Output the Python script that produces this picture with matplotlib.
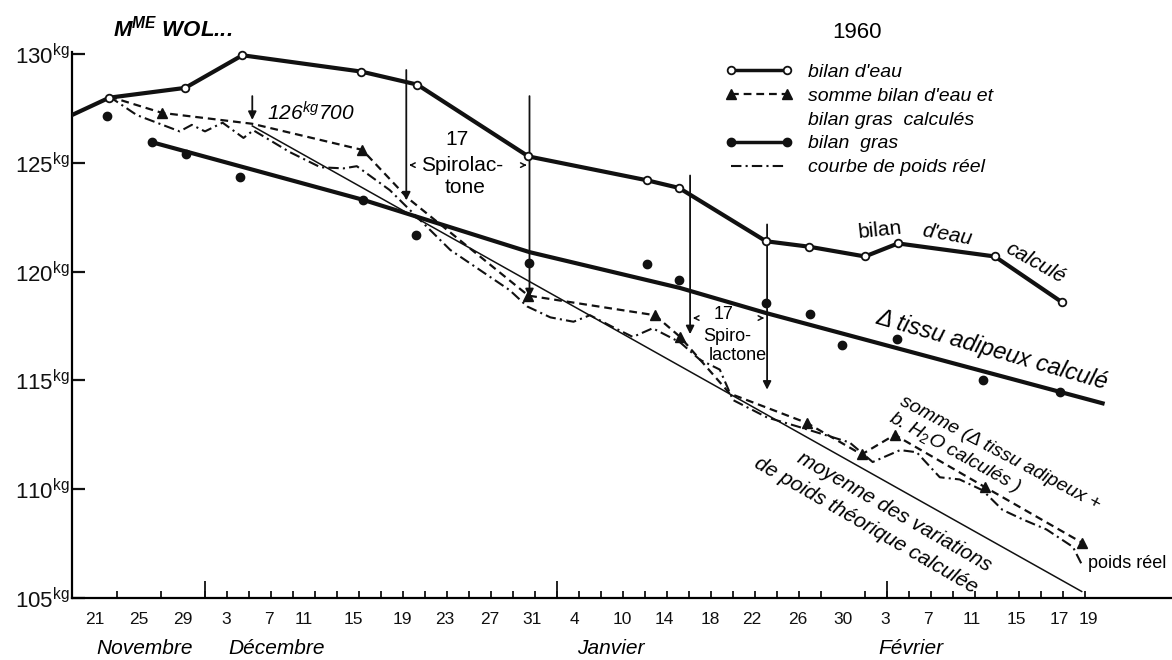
import matplotlib
matplotlib.use('Agg')
import matplotlib.pyplot as plt
from matplotlib import font_manager
from matplotlib.lines import Line2D

# x values are days counted from 21 Nov along the drawn axis, y values in kg
eau_day = [-2.1, 1.3, 8.2, 13.4, 24.2, 29.3, 39.4, 50.2, 53.1, 61.0, 64.9, 70.0, 73.0, 81.8, 87.9]
eau_kg = [127.2, 128.0, 128.45, 129.95, 129.2, 128.6, 125.3, 124.2, 123.85, 121.4, 121.15, 120.7, 121.3, 120.7, 118.6]

gras_day = [1.1, 5.2, 8.3, 13.2, 24.4, 29.2, 39.5, 50.2, 53.1, 61.0, 65.0, 67.9, 72.9, 80.7, 87.7]
gras_kg = [127.15, 125.95, 125.4, 124.35, 123.3, 121.7, 120.4, 120.35, 119.6, 118.55, 118.05, 116.65, 116.9, 115.0, 114.45]

adipeux_day = [5.2, 24.4, 39.5, 53.2, 61.0, 91.6]
adipeux_kg = [125.95, 123.3, 120.9, 119.25, 118.1, 113.95]

somme_day = [1.3, 6.1, 14.3, 24.3, 28.4, 39.4, 50.9, 53.2, 57.7, 64.7, 69.7, 72.7, 80.9, 89.7]
somme_kg = [128.05, 127.3, 126.8, 125.6, 123.4, 118.9, 118.0, 117.0, 114.4, 113.05, 111.6, 112.5, 110.1, 107.55]
somme_triangles = [1, 3, 5, 6, 7, 9, 10, 11, 12, 13]

reel_day = [1.3, 3.8, 7.7, 8.8, 10.0, 11.6, 13.5, 14.4, 17.7, 20.5, 22.6, 23.8, 26.8, 28.6,
            32.3, 37.7, 39.3, 41.4, 43.5, 45.0, 47.1, 48.9, 50.7, 53.2, 55.0, 56.8, 58.0,
            61.1, 64.1, 68.6, 70.7, 71.6, 73.2, 74.7, 76.8, 78.6, 80.7, 82.5, 84.4, 86.5, 88.9, 89.8]
reel_kg = [128.05, 127.2, 126.45, 126.75, 126.45, 126.85, 126.15, 126.5, 125.5, 124.8, 124.75, 124.85,
           123.75, 122.85, 121.0, 119.15, 118.4, 117.9, 117.7, 118.0, 117.45, 117.0, 117.4, 116.75,
           115.95, 115.5, 114.1, 113.3, 112.85, 112.15, 111.25, 111.45, 111.8, 111.7, 110.55, 110.45,
           109.95, 109.05, 108.6, 108.15, 107.35, 106.45]

theo_day = [14.3, 89.7]
theo_kg = [126.7, 105.3]

arrow_day = [14.3, 28.3, 39.5, 54.1, 61.1]
arrow_top = [128.2, 129.4, 128.2, 124.55, 122.3]
arrow_bot = [126.85, 123.15, 118.7, 117.0, 114.45]

spiro_left = [28.3, 54.1]
spiro_right = [39.5, 61.1]
spiro_y = [124.9, 117.87]

yticks = [105, 110, 115, 120, 125, 130]
tick_marks = list(range(0, 91, 2))
month_marks = [10, 42, 72]
xlabel_pos = [0, 4, 8, 11.9, 15.8, 19, 23.5, 27.9, 31.8, 35.9, 39.7, 43.6, 47.9, 51.8, 55.9,
              59.7, 63.9, 68, 71.8, 75.7, 79.7, 83.8, 87.7, 90.3]
xlabels = ['21', '25', '29', '3', '7', '11', '15', '19', '23', '27', '31', '4', '10', '14', '18',
           '22', '26', '30', '3', '7', '11', '15', '17', '19']
months = ['Novembre', 'Décembre', 'Janvier', 'Février']
month_pos = [4.55, 16.5, 46.9, 74.2]

names = {f.name for f in font_manager.fontManager.ttflist}
FONT = 'Liberation Sans Narrow' if 'Liberation Sans Narrow' in names else 'Liberation Sans'
plt.rcParams['font.family'] = [FONT, 'DejaVu Sans']
plt.rcParams['mathtext.fontset'] = 'custom'
plt.rcParams['mathtext.rm'] = FONT
plt.rcParams['mathtext.it'] = FONT + ':italic'
plt.rcParams['mathtext.bf'] = FONT + ':bold:italic'

INK = '#111111'
fig = plt.figure(figsize=(11.72, 6.6), dpi=100)
ax = fig.add_axes([72 / 1172, 62 / 660, 1100 / 1172, 598 / 660])
ax.set_xlim(-2.09, 97.91)
ax.set_ylim(105, 132.49)

# series
ax.plot(eau_day, eau_kg, color=INK, lw=3, marker='o', ms=5.5, mfc='white', mec=INK, mew=1.3,
        markevery=list(range(1, len(eau_day))), zorder=4)
ax.plot(adipeux_day, adipeux_kg, color=INK, lw=3, zorder=3)
ax.plot(gras_day, gras_kg, 'o', color=INK, ms=6, zorder=4)
ax.plot(somme_day, somme_kg, color=INK, lw=1.6, ls=(0, (3.5, 2.2)), marker='^', ms=7,
        markevery=somme_triangles, zorder=3)
ax.plot(reel_day, reel_kg, color=INK, lw=1.5, ls=(0, (5, 2, 1, 2)), zorder=3)
ax.plot(theo_day, theo_kg, color=INK, lw=1.1, zorder=2)

for d, t, b in zip(arrow_day, arrow_top, arrow_bot):
    ax.annotate('', xy=(d, b), xytext=(d, t),
                arrowprops=dict(arrowstyle='-|>', lw=1.3, color=INK, mutation_scale=12))
for l, r, y in zip(spiro_left, spiro_right, spiro_y):
    ax.annotate('', xy=(l, y), xytext=(l + 0.8, y),
                arrowprops=dict(arrowstyle='->', lw=1.1, color=INK, mutation_scale=8))
    ax.annotate('', xy=(r, y), xytext=(r - 0.8, y),
                arrowprops=dict(arrowstyle='->', lw=1.1, color=INK, mutation_scale=8))

# axes
for s in ['top', 'right']:
    ax.spines[s].set_visible(False)
ax.spines['left'].set_bounds(105, 130.1)
ax.spines['left'].set_linewidth(1.6)
ax.spines['bottom'].set_linewidth(1.6)
ax.set_yticks(yticks, [f'{v}' + r'$^{\mathrm{kg}}$' for v in yticks])
ax.tick_params(axis='y', direction='in', length=9, width=1.6, pad=2, labelsize=16, colors=INK)
ax.set_xticks(xlabel_pos, xlabels)
ax.set_xticks(tick_marks, minor=True)
ax.tick_params(axis='x', which='major', length=0, pad=10, labelsize=12.5, colors=INK)
ax.tick_params(axis='x', which='minor', direction='in', length=5, width=1.3, colors=INK)
ax.vlines(month_marks, 105, 105.8, color=INK, lw=1.3)
for m, p in zip(months, month_pos):
    ax.text(p, 102.7, m, ha='center', va='center', fontsize=15, style='italic', clip_on=False)

# legend
proxies = [
    Line2D([], [], color=INK, lw=2.5, marker='o', ms=5.5, mfc='white', mec=INK, mew=1.3),
    Line2D([], [], color=INK, lw=1.6, ls=(0, (3.5, 2.2)), marker='^', ms=7),
    Line2D([], [], color='none'),
    Line2D([], [], color=INK, lw=2.5, marker='o', ms=6),
    Line2D([], [], color=INK, lw=1.5, ls=(0, (5, 2, 1, 2))),
]
leg_labels = ["bilan d'eau", "somme bilan d'eau et", "bilan gras  calculés", "bilan  gras",
              "courbe de poids réel"]
ax.legend(proxies, leg_labels, loc='upper left', bbox_to_anchor=(0.5936, 0.894), frameon=False,
          numpoints=2, handlelength=3.5, handletextpad=0.75, labelspacing=0.32, borderpad=0,
          borderaxespad=0, prop=dict(size=14, style='italic'))

# annotations
ax.text(1.64, 131.2, r"M$^{\mathbf{ME}}$ WOL...", fontsize=16, fontweight='bold', style='italic',
        ha='left', va='center')
ax.text(69.3, 131.0, '1960', fontsize=16, ha='center', va='center')
ax.text(15.6, 127.3, r"126$^{\mathit{kg}}$700", fontsize=15, style='italic', ha='left', va='center')
ax.text(32.9, 126.06, '17', fontsize=15, ha='center', va='center')
ax.text(33.4, 124.9, 'Spirolac-', fontsize=15, ha='center', va='center')
ax.text(33.6, 123.85, 'tone', fontsize=15, ha='center', va='center')
ax.text(57.1, 118.01, '17', fontsize=13, ha='center', va='center')
ax.text(57.5, 117.0, 'Spiro-', fontsize=13, ha='center', va='center')
ax.text(58.4, 116.17, 'lactone', fontsize=13, ha='center', va='center')
ax.text(71.4, 121.92, 'bilan', fontsize=15, rotation=6, ha='center', va='center', rotation_mode='anchor')
ax.text(77.5, 121.69, "d'eau", fontsize=15, style='italic', rotation=-10, ha='center', va='center',
        rotation_mode='anchor')
ax.text(85.5, 120.4, 'calculé', fontsize=15, style='italic', rotation=-29, ha='center', va='center',
        rotation_mode='anchor')
ax.text(81.5, 116.4, 'Δ tissu adipeux calculé', fontsize=17, style='italic', rotation=-16,
        ha='center', va='center', rotation_mode='anchor')
ax.text(82.3, 111.67, 'somme (Δ tissu adipeux +', fontsize=14, style='italic', rotation=-28,
        ha='center', va='center', rotation_mode='anchor')
ax.text(78.2, 111.67, r'b. H$_{2}$O calculés )', fontsize=14, style='italic', rotation=-29,
        ha='center', va='center', rotation_mode='anchor')
ax.text(72.7, 108.95, 'moyenne des variations', fontsize=15, style='italic', rotation=-30,
        ha='center', va='center', rotation_mode='anchor')
ax.text(70.1, 108.36, 'de poids théorique calculée', fontsize=15, style='italic', rotation=-30,
        ha='center', va='center', rotation_mode='anchor')
ax.text(93.8, 106.6, 'poids réel', fontsize=13, ha='center', va='center')

fig.savefig('out.png', dpi=100)
